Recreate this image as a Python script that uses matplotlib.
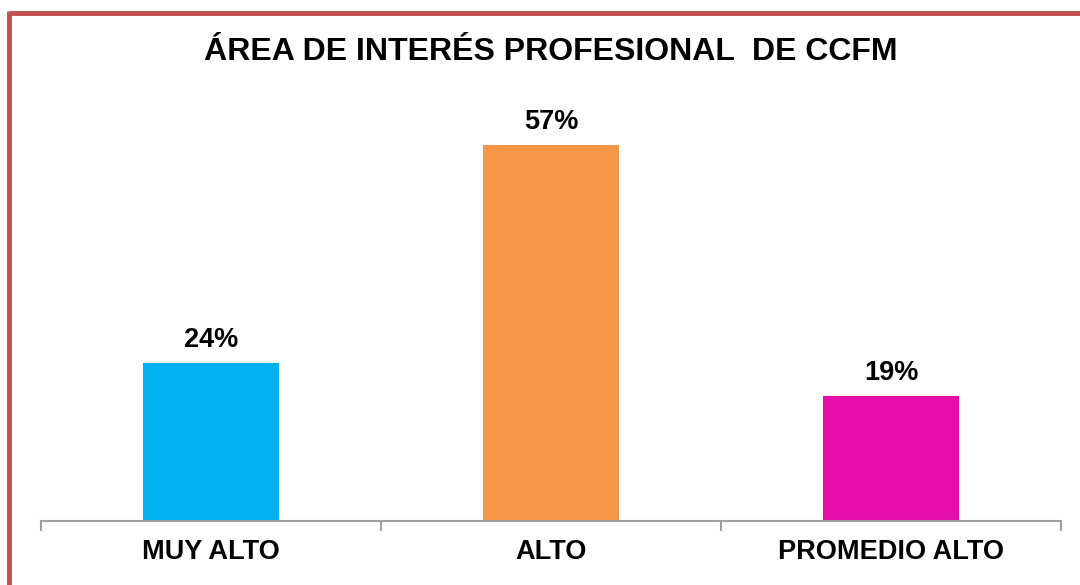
import matplotlib
matplotlib.use("Agg")
import matplotlib.pyplot as plt
from matplotlib.lines import Line2D

categories = ["MUY ALTO", "ALTO", "PROMEDIO ALTO"]
values = [24, 57, 19]
labels = ["24%", "57%", "19%"]
colors = ["#00B0F0", "#F79646", "#E60EAA"]
title = "ÁREA DE INTERÉS PROFESIONAL  DE CCFM"

plt.rcParams['font.family'] = ['Liberation Sans', 'DejaVu Sans']

W, H = 1080, 585
fig = plt.figure(figsize=(W / 100, H / 100), dpi=100)
ax = fig.add_axes([41 / W, (H - 521) / H, (1061 - 41) / W, (521 - 59) / H])

x = list(range(len(categories)))
ax.bar(x, values, width=0.4, color=colors, zorder=2)
for xi, v, lab in zip(x, values, labels):
    ax.annotate(lab, (xi, v), xytext=(0, 7), textcoords="offset points",
                ha="center", va="bottom", fontsize=19.5, fontweight="bold")

ax.set_xlim(-0.5, 2.5)
ax.set_ylim(0, 70)
ax.set_xticks(x)
ax.set_xticklabels(categories, fontsize=19.5, fontweight="bold")
ax.set_xticks([-0.5, 0.5, 1.5, 2.5], minor=True)
ax.tick_params(axis="x", which="major", length=0, pad=13)
ax.tick_params(axis="x", which="minor", length=7, width=1.5, color="#A0A0A0")
ax.set_yticks([])
for s in ["left", "right", "top"]:
    ax.spines[s].set_visible(False)
ax.spines["bottom"].set_color("#A0A0A0")
ax.spines["bottom"].set_linewidth(1.5)

fig.text(551 / W, 1 - 52 / H, title, ha="center", va="center",
         fontsize=23, fontweight="bold")

border = "#C0504D"
fig.add_artist(Line2D([9 / W, 1.0], [1 - 13 / H, 1 - 13 / H], color=border,
                      linewidth=3.5, transform=fig.transFigure, solid_capstyle="butt"))
fig.add_artist(Line2D([9 / W, 9 / W], [1 - 11 / H, 0], color=border,
                      linewidth=3.5, transform=fig.transFigure, solid_capstyle="butt"))

fig.savefig("out.png", dpi=100)
